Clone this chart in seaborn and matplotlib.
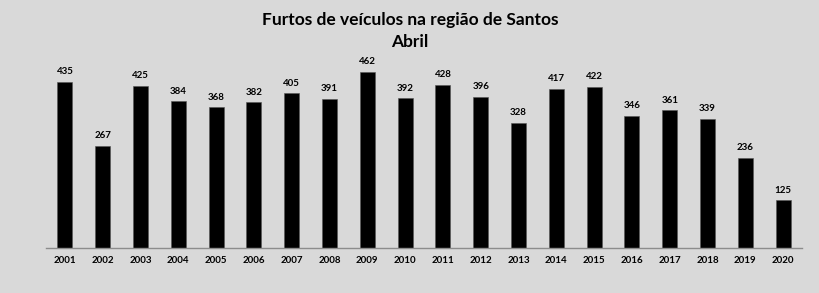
import matplotlib
matplotlib.use("Agg")
import matplotlib.pyplot as plt
import seaborn as sns
import numpy as np
import pandas as pd

years = ["2001", "2002", "2003", "2004", "2005", "2006", "2007", "2008", "2009", "2010",
         "2011", "2012", "2013", "2014", "2015", "2016", "2017", "2018", "2019", "2020"]
values = [435, 267, 425, 384, 368, 382, 405, 391, 462, 392,
          428, 396, 328, 417, 422, 346, 361, 339, 236, 125]
title_lines = ["Furtos de veículos na região de Santos", "Abril"]

sns.set_theme(style="white")
plt.rcParams["font.family"] = ["Lato", "DejaVu Sans"]

bg = "#d9d9d9"
fig = plt.figure(figsize=(8.2, 2.93), dpi=100, facecolor=bg)
ax = fig.add_axes([46/820, 45/293, (802-46)/820, (248-57)/293])
ax.set_facecolor(bg)

df = pd.DataFrame({"ano": years, "furtos": values})
sns.barplot(data=df, x="ano", y="furtos", color="black", width=0.4,
            saturation=1, ax=ax, edgecolor="#555555", linewidth=0.4)

ax.set_ylim(0, 500)
ax.set_xlim(-0.5, len(years) - 0.5)
ax.set_xlabel("")
ax.set_ylabel("")
ax.set_yticks([])
for s in ["top", "right", "left"]:
    ax.spines[s].set_visible(False)
ax.spines["bottom"].set_color("#8c8c8c")
ax.spines["bottom"].set_linewidth(1)

ax.set_xticks(range(len(years)))
ax.set_xticklabels(years, fontsize=7, fontweight="bold", color="black")
ax.tick_params(axis="x", which="major", length=0, pad=6)
ax.set_xticks(np.arange(-0.5, len(years), 1), minor=True)
ax.tick_params(axis="x", which="minor", length=4, color="#8c8c8c", width=1, direction="out")

for c in ax.containers:
    ax.bar_label(c, labels=[str(v) for v in values], padding=4, fontsize=7,
                 fontweight="bold", color="black")

fig.text(0.5, 1 - 20/293, title_lines[0], ha="center", va="center",
         fontsize=12.5, fontweight="bold", color="black")
fig.text(0.5, 1 - 42/293, title_lines[1], ha="center", va="center",
         fontsize=12.5, fontweight="bold", color="black")

fig.savefig("out.png", dpi=100, facecolor=bg)
